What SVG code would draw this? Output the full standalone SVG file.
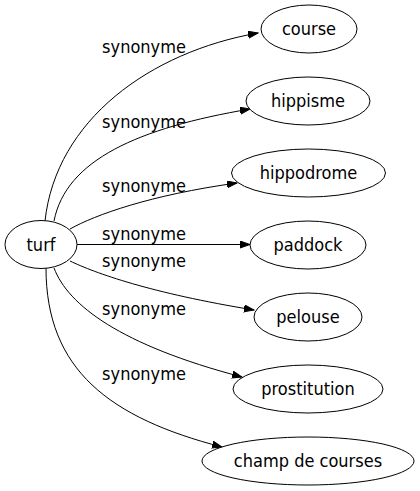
<svg xmlns="http://www.w3.org/2000/svg" width="420" height="491" viewBox="0 0 420 491">
<defs>
<marker id="arr" markerUnits="userSpaceOnUse" markerWidth="11" markerHeight="8" refX="10" refY="3.5" orient="auto">
<path d="M0,0 L10,3.5 L0,7 Z" fill="#000" stroke="#000" stroke-width="1"/>
</marker>
<style>
.n ellipse{fill:#fff;stroke:#000;stroke-width:1}
text{font-family:"DejaVu Sans Condensed","DejaVu Sans",sans-serif;font-stretch:condensed;font-size:18px;fill:#000}
.n text{text-anchor:middle}
.lbl{text-anchor:middle}
.e path{fill:none;stroke:#000;stroke-width:1;marker-end:url(#arr)}
</style>
</defs>
<rect width="420" height="491" fill="#fff"/>
<g id="edges" class="e">
<path d="M45,221 C56,120 150,52 258,33"/>
<path d="M54,221 C66,160 138,128 250,109"/>
<path d="M70,229 C95,215 150,195 237,183"/>
<path d="M77,244.5 L250,244.5"/>
<path d="M70,261 C95,273 150,293 254,310"/>
<path d="M54,268 C68,305 120,345 242,377"/>
<path d="M46,268 C46,370 110,418 222,447"/>
</g>
<g id="labels">
<text class="lbl" x="144" y="53">synonyme</text>
<text class="lbl" x="144" y="128">synonyme</text>
<text class="lbl" x="144" y="192">synonyme</text>
<text class="lbl" x="144" y="240">synonyme</text>
<text class="lbl" x="144" y="267">synonyme</text>
<text class="lbl" x="144" y="315">synonyme</text>
<text class="lbl" x="144" y="380">synonyme</text>
</g>
<g id="turf" class="n"><ellipse cx="41" cy="244.5" rx="36" ry="24"/><text x="41" y="250.5">turf</text></g>
<g id="course" class="n"><ellipse cx="309" cy="29" rx="48" ry="24"/><text x="309" y="35">course</text></g>
<g id="hippisme" class="n"><ellipse cx="308" cy="101" rx="62" ry="24"/><text x="308" y="107">hippisme</text></g>
<g id="hippodrome" class="n"><ellipse cx="308.5" cy="173" rx="77" ry="24"/><text x="308.5" y="179">hippodrome</text></g>
<g id="paddock" class="n"><ellipse cx="308" cy="245" rx="58" ry="24"/><text x="308" y="251">paddock</text></g>
<g id="pelouse" class="n"><ellipse cx="308" cy="317" rx="54" ry="24"/><text x="308" y="323">pelouse</text></g>
<g id="prostitution" class="n"><ellipse cx="308" cy="389" rx="75" ry="24"/><text x="308" y="395">prostitution</text></g>
<g id="champ_de_courses" class="n"><ellipse cx="308" cy="461" rx="106" ry="24"/><text x="308" y="467">champ de courses</text></g>
</svg>
